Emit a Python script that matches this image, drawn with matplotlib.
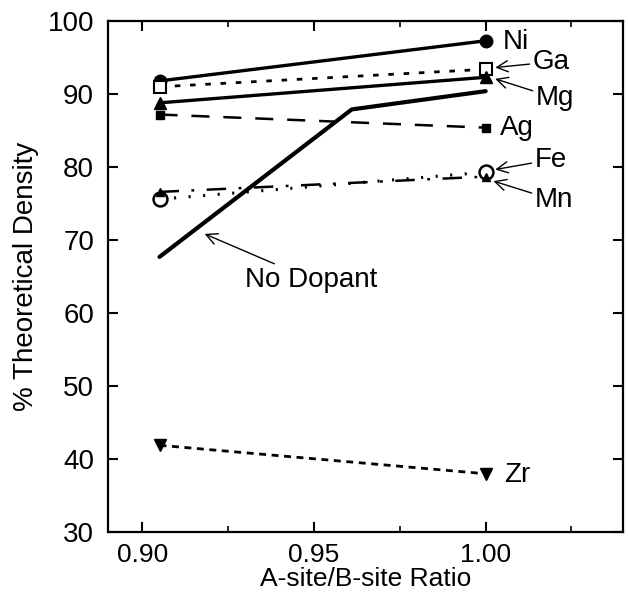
import numpy as np
import matplotlib
matplotlib.use("Agg")
import matplotlib.pyplot as plt
from matplotlib.ticker import MultipleLocator

plt.rcParams['font.family'] = ['Liberation Sans', 'DejaVu Sans']
plt.rcParams['lines.scale_dashes'] = False

# A-site/B-site ratios
ratio = [0.905, 1.00]

# % theoretical density for each dopant
ni = [91.8, 97.3]
ga = [91.0, 93.4]
mg = [88.8, 92.3]
ag = [87.2, 85.4]
fe = [75.6, 79.3]
mn = [76.6, 78.7]
zr = [41.9, 38.0]

# undoped samples
ratio_nodop = [0.905, 0.961, 1.00]
nodop = [67.7, 87.9, 90.4]

fig = plt.figure(figsize=(6.28, 6.02), dpi=100)
ax = fig.add_axes([0.172, 0.116, 0.82, 0.849])

fs = 20

# Plot each series
ax.plot(ratio, ni, color='black', lw=2.4, marker='o', ms=9, mfc='black')
ax.plot(ratio, ga, color='black', lw=2.0, dashes=(4, 7), marker='s', ms=8, mfc='white', mew=1.5)
ax.plot(ratio, mg, color='black', lw=2.4, marker='^', ms=8, mfc='black')
ax.plot(ratio, ag, color='black', lw=1.8, dashes=(13, 10), marker='s', ms=6, mfc='black')
ax.plot(ratio, fe, color='black', lw=2.2, dashes=(1.5, 9), marker='o', ms=10, mfc='white', mew=1.8)
ax.plot(ratio, mn, color='black', lw=1.8, dashes=(14, 9, 2, 9), marker='^', ms=6, mfc='black')
ax.plot(ratio, zr, color='black', lw=2.0, dashes=(5, 4), marker='v', ms=9, mfc='black')
ax.plot(ratio_nodop, nodop, color='black', lw=3.0, solid_capstyle='round')

# Labels for each curve
arrow = dict(arrowstyle='->', color='black', lw=1.0, shrinkA=0, shrinkB=2)
ax.text(1.0049, 97.2, 'Ni', fontsize=fs, va='center', ha='left')
ax.text(1.0043, 85.3, 'Ag', fontsize=fs, va='center', ha='left')
ax.text(1.0055, 37.8, 'Zr', fontsize=fs, va='center', ha='left')
ax.annotate('Ga', xy=(1.002, 93.6), xytext=(1.0136, 94.4), fontsize=fs,
            va='center', ha='left', arrowprops=arrow)
ax.annotate('Mg', xy=(1.002, 92.2), xytext=(1.0145, 89.5), fontsize=fs,
            va='center', ha='left', arrowprops=arrow)
ax.annotate('Fe', xy=(1.002, 79.6), xytext=(1.0142, 81.0), fontsize=fs,
            va='center', ha='left', arrowprops=arrow)
ax.annotate('Mn', xy=(1.0015, 78.2), xytext=(1.0142, 75.5), fontsize=fs,
            va='center', ha='left', arrowprops=arrow)
ax.annotate('No Dopant', xy=(0.9174, 71.0), xytext=(0.9299, 64.6), fontsize=fs,
            va='center', ha='left', arrowprops=arrow)

# Axes setup
ax.set_xlim(0.89, 1.04)
ax.set_ylim(30, 100)
ax.set_xticks([0.90, 0.95, 1.00])
ax.set_xticklabels(['0.90', '0.95', '1.00'])
ax.xaxis.set_minor_locator(MultipleLocator(0.025))
ax.set_yticks(np.arange(30, 101, 10))
ax.tick_params(which='both', direction='in', top=True, right=True, labelsize=fs)
ax.tick_params(which='major', length=7, width=1.5)
ax.tick_params(which='minor', length=4, width=1.2)
ax.tick_params(axis='x', pad=8, labelsize=19)
ax.tick_params(axis='y', pad=10)
for s in ax.spines.values():
    s.set_linewidth(1.6)

ax.set_xlabel('A-site/B-site Ratio', fontsize=19, labelpad=0)
ax.set_ylabel('% Theoretical Density', fontsize=fs, labelpad=6)

fig.savefig('out.png', dpi=100)
